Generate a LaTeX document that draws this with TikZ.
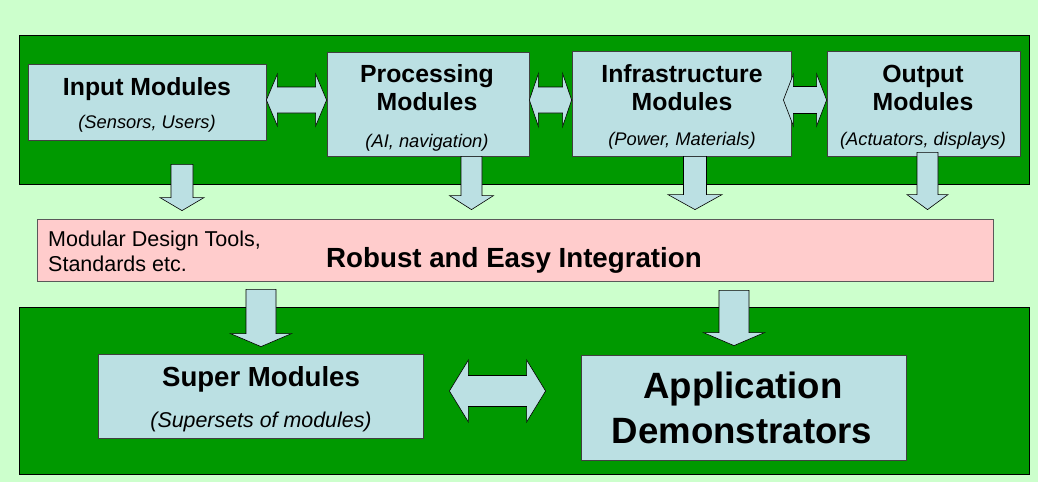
\documentclass[tikz,border=0pt]{standalone}
\usepackage{fontspec}
\setmainfont{Liberation Sans}
\usetikzlibrary{calc}
\definecolor{paleg}{RGB}{204,255,204}
\definecolor{darkg}{RGB}{0,153,0}
\definecolor{boxblue}{RGB}{187,224,227}
\definecolor{pinkbar}{RGB}{255,204,204}

\newcommand{\hdarrow}[5]{
  \filldraw[blockarrow] let \p1=#1, \p2=#2 in
    (\x1,\y1) -- (\x1+#3,\y1+#4) -- (\x1+#3,\y1+#5) -- (\x2-#3,\y1+#5) -- (\x2-#3,\y1+#4)
    -- (\x2,\y1) -- (\x2-#3,\y1-#4) -- (\x2-#3,\y1-#5) -- (\x1+#3,\y1-#5) -- (\x1+#3,\y1-#4) -- cycle;
}
\newcommand{\vdarrow}[5]{
  \filldraw[blockarrow] let \p1=#1, \p2=#2 in
    (\x1-#5,\y1) -- (\x1+#5,\y1) -- (\x1+#5,\y2+#3) -- (\x1+#4,\y2+#3)
    -- (\x1,\y2) -- (\x1-#4,\y2+#3) -- (\x1-#5,\y2+#3) -- cycle;
}

\begin{document}
\begin{tikzpicture}[x=1pt,y=-1pt]
        \tikzstyle{every node}=[inner sep=0pt]
        \tikzstyle{band}=[fill=darkg,draw=black,line width=0.8pt]
        \tikzstyle{modbox}=[fill=boxblue,draw=black!75,line width=0.8pt]
        \tikzstyle{blockarrow}=[fill=boxblue,draw=black,line width=0.6pt]
        \tikzstyle{ttl}=[anchor=base,font=\fontsize{24.8}{28}\selectfont\bfseries]
        \tikzstyle{sub}=[anchor=base,font=\fontsize{18.3}{22}\selectfont\itshape]
        \begin{scope}
           \fill[paleg] (0,0) rectangle (1038,482);
           \useasboundingbox (0,0) rectangle (1038,482);

           \filldraw[band] (19,35) rectangle (1029,184);

           \filldraw[band] (19,307) rectangle (1029,474);

           \node[modbox,minimum width=238,minimum height=76] (inp) at (147,102) {};
           \node[ttl] (inpt) at (147,95) {Input Modules};
           \node[sub] (inps) at (147,128) {(Sensors, Users)};

           \node[modbox,minimum width=202,minimum height=104] (proc) at (428,104) {};
           \node[ttl] (proct) at (427,82) {Processing};
           \node[ttl] (procm) at (427,110) {Modules};
           \node[sub] (procs) at (427,147) {(AI, navigation)};

           \node[modbox,minimum width=219,minimum height=105] (infra) at (681.5,103.5) {};
           \node[ttl] (infrat) at (682,82) {Infrastructure};
           \node[ttl] (infram) at (682,110) {Modules};
           \node[sub] (infras) at (682,145) {(Power, Materials)};

           \node[modbox,minimum width=193,minimum height=105] (outp) at (923.5,103.5) {};
           \node[ttl] (outpt) at (923,82) {Output};
           \node[ttl] (outpm) at (923,110) {Modules};
           \node[sub] (outps) at (923,145) {(Actuators, displays)};

           \node[fill=pinkbar,draw=black!65,line width=0.8pt,minimum width=956,minimum height=62] (integ) at (515,250) {};
           \node[anchor=base west,font=\fontsize{21.5}{25}\selectfont] (tools) at (48,246) {Modular Design Tools,};
           \node[anchor=base west,font=\fontsize{21.5}{25}\selectfont] (stds) at (48,271) {Standards etc.};
           \node[anchor=base,font=\fontsize{27.7}{32}\selectfont\bfseries] (robust) at (514,267) {Robust and Easy Integration};

           \node[modbox,minimum width=325,minimum height=84] (super) at (260.5,396) {};
           \node[anchor=base,font=\fontsize{27.6}{32}\selectfont\bfseries] (supert) at (261,386) {Super Modules};
           \node[anchor=base,font=\fontsize{21.4}{25}\selectfont\itshape] (supers) at (261,427) {(Supersets of modules)};

           \node[modbox,minimum width=325,minimum height=105] (app) at (743.5,407.5) {};
           \node[anchor=base,font=\fontsize{36.6}{42}\selectfont\bfseries] (appt) at (743,398) {Application};
           \node[anchor=base,font=\fontsize{36.6}{42}\selectfont\bfseries] (appd) at (742,443) {Demonstrators};

           \hdarrow{(inp.east |- 0,100)}{(proc.west |- 0,100)}{11}{26}{13}
           \hdarrow{(proc.east |- 0,100)}{(infra.west |- 0,100)}{9}{26.5}{13}
           \hdarrow{($(infra.east |- 0,100)+(-8,0)$)}{(outp.west |- 0,100)}{10}{26}{13.5}
           \hdarrow{($(super.east |- 0,391)+(26,0)$)}{($(app.west |- 0,391)+(-35,0)$)}{19}{31}{15.5}

           \vdarrow{($(182,0 |- inp.south)+(0,24)$)}{($(182,0 |- integ.north)+(0,-8)$)}{13}{22}{11}
           \vdarrow{(471.5,0 |- proc.south)}{($(471.5,0 |- integ.north)+(0,-9)$)}{14}{22}{10.5}
           \vdarrow{(695,0 |- infra.south)}{($(695,0 |- integ.north)+(0,-9)$)}{15}{27}{11.5}
           \vdarrow{($(927.5,0 |- outp.south)+(0,-4)$)}{($(927.5,0 |- integ.north)+(0,-9)$)}{15}{20.5}{10.5}
           \vdarrow{($(261,0 |- integ.south)+(0,8)$)}{($(261,0 |- super.north)+(0,-7)$)}{13}{30.5}{15}
           \vdarrow{($(734,0 |- integ.south)+(0,9)$)}{($(734,0 |- app.north)+(0,-9)$)}{13}{30.5}{15}
     \end{scope}
  \end{tikzpicture}
\end{document}
